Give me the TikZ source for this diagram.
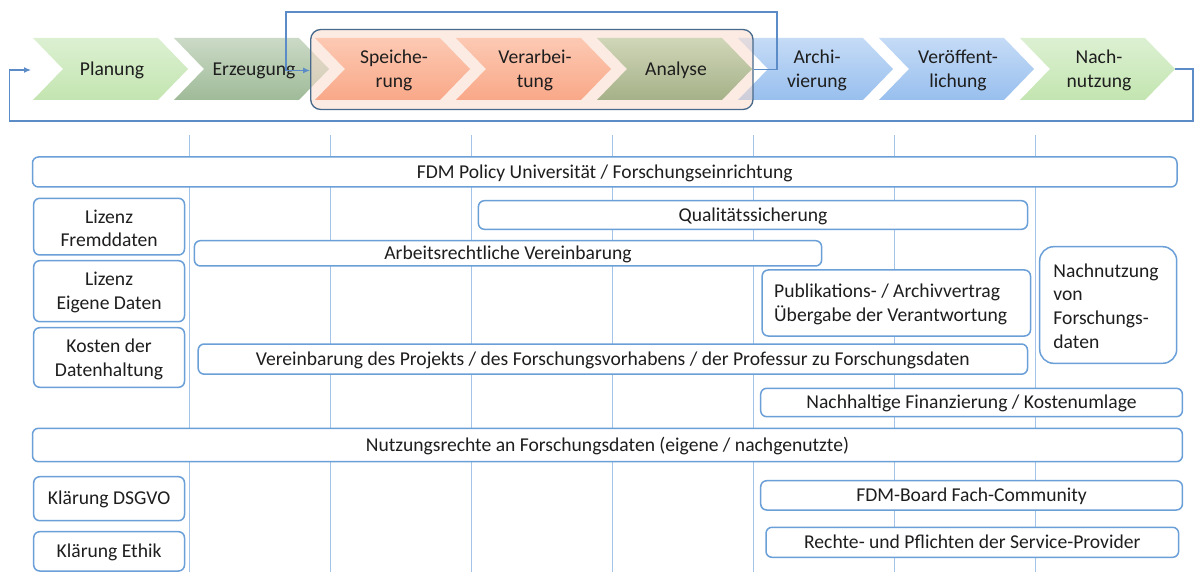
\documentclass[tikz,border=0pt]{standalone}
\usepackage{fontspec}
\setmainfont{Carlito}
\usetikzlibrary{arrows.meta}
\definecolor{gridline}{HTML}{A3C4E8}
\definecolor{boxedge}{HTML}{6A9FD8}
\definecolor{loopcol}{HTML}{5B8CC8}
\definecolor{grpedge}{HTML}{46698C}
\definecolor{grpfill}{HTML}{FADBCD}
\definecolor{txt}{HTML}{1E1E1E}
\definecolor{gTop}{HTML}{DCF0D2}\definecolor{gBot}{HTML}{C3E5B0}
\definecolor{eTop}{HTML}{CBDAC6}\definecolor{eBot}{HTML}{9FBB98}
\definecolor{sTop}{HTML}{FCC9B3}\definecolor{sBot}{HTML}{F9A888}
\definecolor{aTop}{HTML}{D0D6B8}\definecolor{aBot}{HTML}{A5B188}
\definecolor{bTop}{HTML}{C5DBF6}\definecolor{bBot}{HTML}{98BFEE}
\newcommand{\mychev}[3]{\shade[top color=#2, bottom color=#3] (#1,38) -- ++(125,0) -- ++(30,31) -- ++(-30,31) -- ++(-125,0) -- ++(30,-31) -- cycle;}
\begin{document}
\begin{tikzpicture}[x=1pt,y=-1pt,
  every node/.style={text=txt, font=\fontsize{19.6}{23.8}\selectfont},
  chevlabel/.style={align=center, inner sep=0pt},
  rbox/.style={draw=boxedge, line width=1.5pt, fill=white, rounded corners=6pt, inner sep=0pt, align=center},
  oneline/.style={text height=14pt, text depth=1.6pt},
  grid/.style={draw=gridline, line width=1pt},
  loopline/.style={draw=loopcol, line width=1.2pt, -{Latex[length=7pt,width=6pt]}}
]
\useasboundingbox (0,0) rectangle (1195,572);
\fill[white] (0,0) rectangle (1195,572);

% vertical grid lines
\foreach \k in {0,...,6} {
  \draw[grid] (189.5+141*\k,135) -- (189.5+141*\k,572);
}

% boxes
\node[rbox, oneline, minimum width=1144.5, minimum height=30] (policy) at (604.75,172) {FDM Policy Universität / Forschungseinrichtung};
\node[rbox, minimum width=150.8, minimum height=56.7] (lizfremd) at (109.1,226.65) {};
\node[align=center, inner sep=0pt] (lizfremdtxt) at (109.1,228.3) {Lizenz\\Fremddaten};
\node[rbox, minimum width=150.8, minimum height=61] (lizeigen) at (109.1,291.2) {};
\node[align=center, inner sep=0pt] (lizeigentxt) at (109.1,292.8) {Lizenz\\Eigene Daten};
\node[rbox, minimum width=150.8, minimum height=59.6] (kosten) at (109.1,357.5) {};
\node[align=center, inner sep=0pt] (kostentxt) at (109.1,359.5) {Kosten der\\Datenhaltung};
\node[rbox, oneline, minimum width=549.1, minimum height=28.6] (quali) at (752.95,215) {Qualitätssicherung};
\node[rbox, oneline, minimum width=627.2, minimum height=25.3] (arbeit) at (508,253.35) {Arbeitsrechtliche Vereinbarung};
\node[rbox, minimum width=268.3, minimum height=66] (pub) at (896.35,303) {};
\node[anchor=west, align=left, inner sep=0pt] (pubtxt) at ([xshift=12.5pt, yshift=-1.5pt]pub.west) {Publikations- / Archivvertrag\\Übergabe der Verantwortung};
\node[rbox, minimum width=137, minimum height=116.6, rounded corners=14pt] (nachbox) at (1108.2,305) {};
\node[anchor=west, align=left, inner sep=0pt] (nachtxt) at ([xshift=14.3pt, yshift=-1pt]nachbox.west) {Nachnutzung\\von\\Forschungs-\\daten};
\node[rbox, oneline, minimum width=829.3, minimum height=30.2] (verein) at (612.85,359.1) {Vereinbarung des Projekts / des Forschungsvorhabens / der Professur zu Forschungsdaten};
\node[rbox, oneline, minimum width=421.7, minimum height=28.4] (finanz) at (971.55,402.5) {Nachhaltige Finanzierung / Kostenumlage};
\node[rbox, oneline, minimum width=1149.9, minimum height=33.4] (nutzung) at (607.45,445) {Nutzungsrechte an Forschungsdaten (eigene / nachgenutzte)};
\node[rbox, oneline, minimum width=150.8, minimum height=44] (dsgvo) at (109.1,498.7) {Klärung DSGVO};
\node[rbox, oneline, minimum width=150.8, minimum height=39.3] (ethik) at (109.1,551.35) {Klärung Ethik};
\node[rbox, oneline, minimum width=421.7, minimum height=29.3] (board) at (971.55,495.35) {FDM-Board Fach-Community};
\node[rbox, oneline, minimum width=412.6, minimum height=30] (rechte) at (972.3,542.3) {Rechte- und Pflichten der Service-Provider};

% chevrons (outside the group)
\mychev{33}{gTop}{gBot}
\mychev{174}{eTop}{eBot}
\mychev{738}{bTop}{bBot}
\mychev{879}{bTop}{bBot}
\mychev{1020}{gTop}{gBot}

% group box
\node[draw=grpedge, line width=1.3pt, fill=grpfill, fill opacity=0.55, rounded corners=10pt,
      minimum width=442.3, minimum height=80, inner sep=0pt] (grp) at (531.85,69.5) {};

% chevrons inside the group
\mychev{315}{sTop}{sBot}
\mychev{456}{sTop}{sBot}
\mychev{597}{aTop}{aBot}

% chevron labels
\node[chevlabel, oneline] (lplan) at (112,69) {Planung};
\node[chevlabel, oneline] (lerz) at (254,69) {Erzeugung};
\node[chevlabel] (lspei) at (394,70.5) {Speiche-\\rung};
\node[chevlabel] (lverarb) at (535,70.5) {Verarbei-\\tung};
\node[chevlabel, oneline] (lana) at (676,69) {Analyse};
\node[chevlabel] (larch) at (817,70.5) {Archi-\\vierung};
\node[chevlabel] (lveroeff) at (958,70.5) {Veröffent-\\lichung};
\node[chevlabel] (lnach) at (1099,70.5) {Nach-\\nutzung};

% loops
\coordinate (nachtip) at (1175,69);
\coordinate (planin) at (31,70);
\draw[loopline] (grp.east) -- (777,69.5) -- (777,12) -- (286,12) -- (286,70.5) -- (grp.west |- 0,70.5);
\draw[loopline] (nachtip) -- (1193,69) -- (1193,121) -- (9.5,121) -- (9.5,70) -- (planin);
\end{tikzpicture}
\end{document}
